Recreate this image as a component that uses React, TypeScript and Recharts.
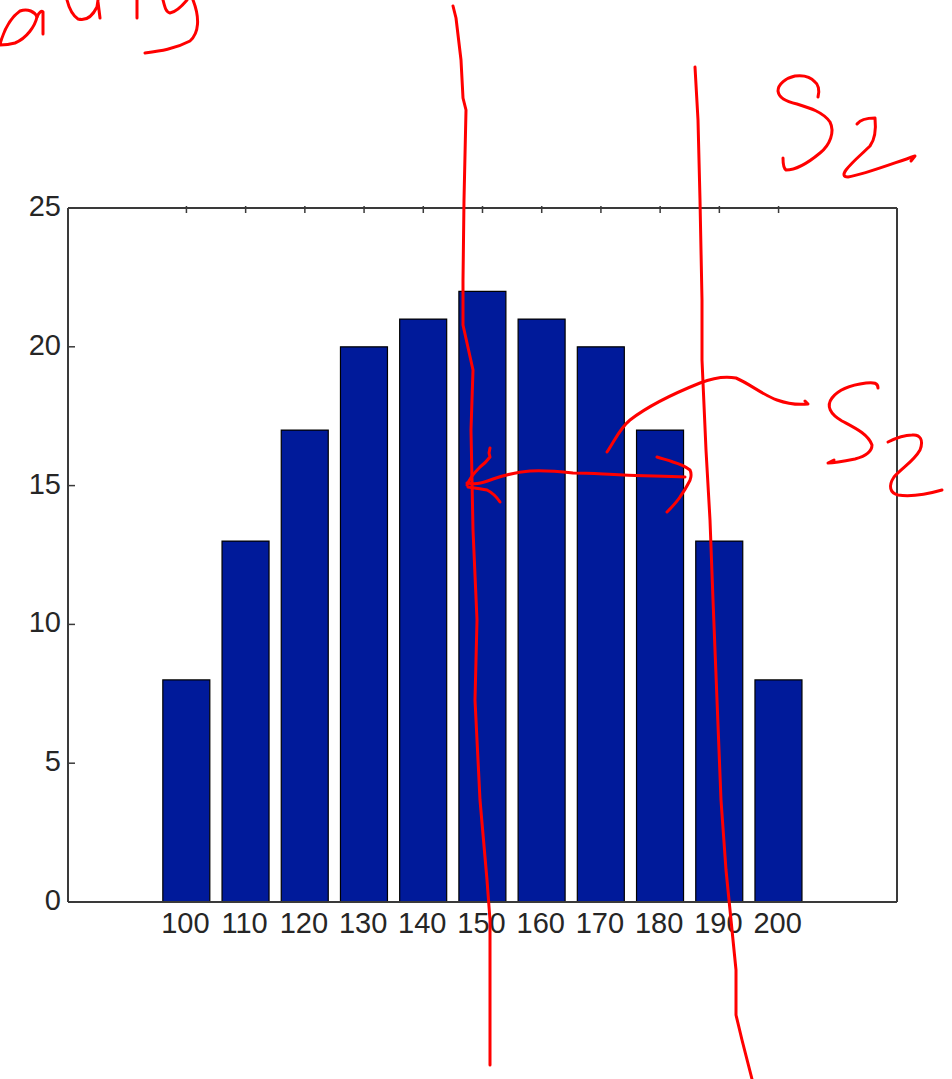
import { BarChart, Bar, XAxis, YAxis } from "recharts";

// category centres and bar heights (counts)
const bins = [100, 110, 120, 130, 140, 150, 160, 170, 180, 190, 200];
const counts = [8, 13, 17, 20, 21, 22, 21, 20, 17, 13, 8];
const yTicks = [0, 5, 10, 15, 20, 25];

const data = bins.map((b, i) => ({ bin: b, count: counts[i] }));

const AXIS = "#3a3a3a";
const TEXT = "#262626";
const FONT = "'Liberation Sans', Arial, Helvetica, sans-serif";
const INK = "#ff0000";

function LeftTick(props: any) {
  const { x, y, payload } = props;
  return (
    <g>
      <line x1={x} x2={x + 7} y1={y} y2={y} stroke={AXIS} strokeWidth={1.5} />
      <text x={x - 7} y={y + 8} textAnchor="end" fontSize={29} fill={TEXT} fontFamily={FONT}>
        {payload.value}
      </text>
    </g>
  );
}

function RightTick(props: any) {
  const { x, y } = props;
  return <line x1={x} x2={x - 7} y1={y} y2={y} stroke={AXIS} strokeWidth={1.5} />;
}

function BottomTick(props: any) {
  const { x, y, payload } = props;
  return (
    <text x={x - 1} y={y + 29} textAnchor="middle" fontSize={29} fill={TEXT} fontFamily={FONT}>
      {payload.value}
    </text>
  );
}

function TopTick(props: any) {
  const { x, y } = props;
  return <line x1={x} x2={x} y1={y} y2={y + 7} stroke={AXIS} strokeWidth={1.5} />;
}

// handwritten red pen strokes drawn over the screenshot
function Scribbles() {
  const p = { fill: "none", stroke: INK, strokeWidth: 3, strokeLinecap: "round" as const, strokeLinejoin: "round" as const };
  return (
    <svg
      width={952}
      height={1079}
      style={{ position: "absolute", left: 0, top: 0, pointerEvents: "none" }}
    >
      {/* top-left word fragment */}
      <path {...p} d="M0,44 C4,30 10,18 20,11 C28,8 35,12 37,17 C35,26 27,38 15,43 C8,45 3,45 0,45" />
      <path {...p} d="M37,17 C39,12 42,10 43,12 L43,34" />
      <path {...p} d="M67,0 C69,8 72,15 78,19 C85,21 92,17 97,7 L98,0 M98,2 L100,18" />
      <path {...p} d="M137,0 L137,18" />
      <path {...p} d="M163,0 C165,8 166,12 170,13 C176,12 182,6 187,0" />
      <path {...p} d="M193,0 C200,18 199,33 190,41 C175,49 160,51 145,53" />
      {/* first vertical line */}
      <path
        {...p}
        d="M453,6 L456,18 L461,60 L463,98 L466,110 L464,200 L463,280 L463,325 L473,370 L471,430 L473,530 L477,620 L475,700 L480,800 L487,880 L490,920 L490,1065"
      />
      {/* second vertical line */}
      <path
        {...p}
        d="M695,67 L698,120 L700,200 L702,300 L702,360 L706,450 L710,520 L713,600 L717,700 L721,800 L726,870 L731,920 L736,970 L736,1015 L742,1040 L752,1079"
      />
      {/* S2 top right */}
      <path
        {...p}
        d="M818,97 C820,90 818,84 815,82 C810,76 803,75 795,76 C786,78 778,84 778,91 C779,98 785,101 797,104 C810,108 823,112 830,122 C835,132 830,145 820,153 C808,163 795,170 786,170 C783,168 783,163 783,158"
      />
      <path
        {...p}
        d="M857,124 C860,120 867,118 875,118 C876,128 876,138 870,146 C862,154 852,162 846,170 C843,174 843,177 848,177 C862,175 880,168 915,156 L911,161"
      />
      {/* curved pointer */}
      <path
        {...p}
        d="M607,452 C615,440 620,428 630,420 C648,406 670,395 700,383 C715,377 726,376 736,378 C750,384 763,395 777,400 C788,404 798,405 808,404 L805,401"
      />
      {/* S2 right */}
      <path
        {...p}
        d="M878,388 C878,383 874,382 866,383 C850,385 838,390 832,398 C826,406 830,414 842,421 C855,428 868,434 872,445 C872,452 866,456 855,459 C845,461 835,463 828,463 L834,460"
      />
      <path
        {...p}
        d="M888,442 C896,438 905,435 912,435 C920,434 924,440 920,450 C914,461 902,468 894,477 C888,486 890,493 898,495 C912,497 928,494 942,490"
      />
      {/* double-headed arrow */}
      <path
        {...p}
        d="M685,477 C660,476 640,476 623,475 C600,474 590,473 573,473 C555,471 545,470 530,471 C515,472 505,475 493,479 C485,482 478,485 467,483"
      />
      <path {...p} d="M490,448 L489,453 L490,457 C487,461 484,464 480,467 C475,472 470,477 467,485" />
      <path {...p} d="M468,487 C475,488 482,489 487,490 C493,493 496,496 500,502" />
      <path {...p} d="M657,457 C663,459 668,460 673,462 C680,464 686,467 690,470 C692,474 691,480 688,484 C685,490 682,494 680,497 C676,503 671,508 667,512" />
    </svg>
  );
}

export default function App() {
  return (
    <>
      <div style={{ position: "relative", width: 936, height: 1063 }}>
        <BarChart
          width={936}
          height={1063}
          data={data}
          margin={{ top: 199, right: 46, bottom: 109, left: 0 }}
        >
          <XAxis
            xAxisId="bottom"
            dataKey="bin"
            type="number"
            domain={[80, 220]}
            ticks={bins}
            interval={0}
            height={60}
            axisLine={{ stroke: AXIS, strokeWidth: 2 }}
            tickLine={false}
            tickSize={0}
            tick={<BottomTick />}
            allowDataOverflow
          />
          <XAxis
            xAxisId="top"
            orientation="top"
            dataKey="bin"
            type="number"
            domain={[80, 220]}
            ticks={bins}
            interval={0}
            height={1}
            axisLine={{ stroke: AXIS, strokeWidth: 2 }}
            tickLine={false}
            tickSize={0}
            tick={<TopTick />}
            allowDataOverflow
          />
          <YAxis
            yAxisId="left"
            domain={[0, 25]}
            ticks={yTicks}
            interval={0}
            width={60}
            axisLine={{ stroke: AXIS, strokeWidth: 2 }}
            tickLine={false}
            tickSize={0}
            tickMargin={0}
            tick={<LeftTick />}
          />
          <YAxis
            yAxisId="right"
            orientation="right"
            domain={[0, 25]}
            ticks={yTicks}
            interval={0}
            width={1}
            axisLine={{ stroke: AXIS, strokeWidth: 2 }}
            tickLine={false}
            tickSize={0}
            tickMargin={0}
            tick={<RightTick />}
          />
          <Bar
            xAxisId="bottom"
            yAxisId="left"
            dataKey="count"
            fill="#001a9a"
            stroke="#000000"
            strokeWidth={1.2}
            barSize={47}
            isAnimationActive={false}
          />
        </BarChart>
      </div>
      <Scribbles />
    </>
  );
}
